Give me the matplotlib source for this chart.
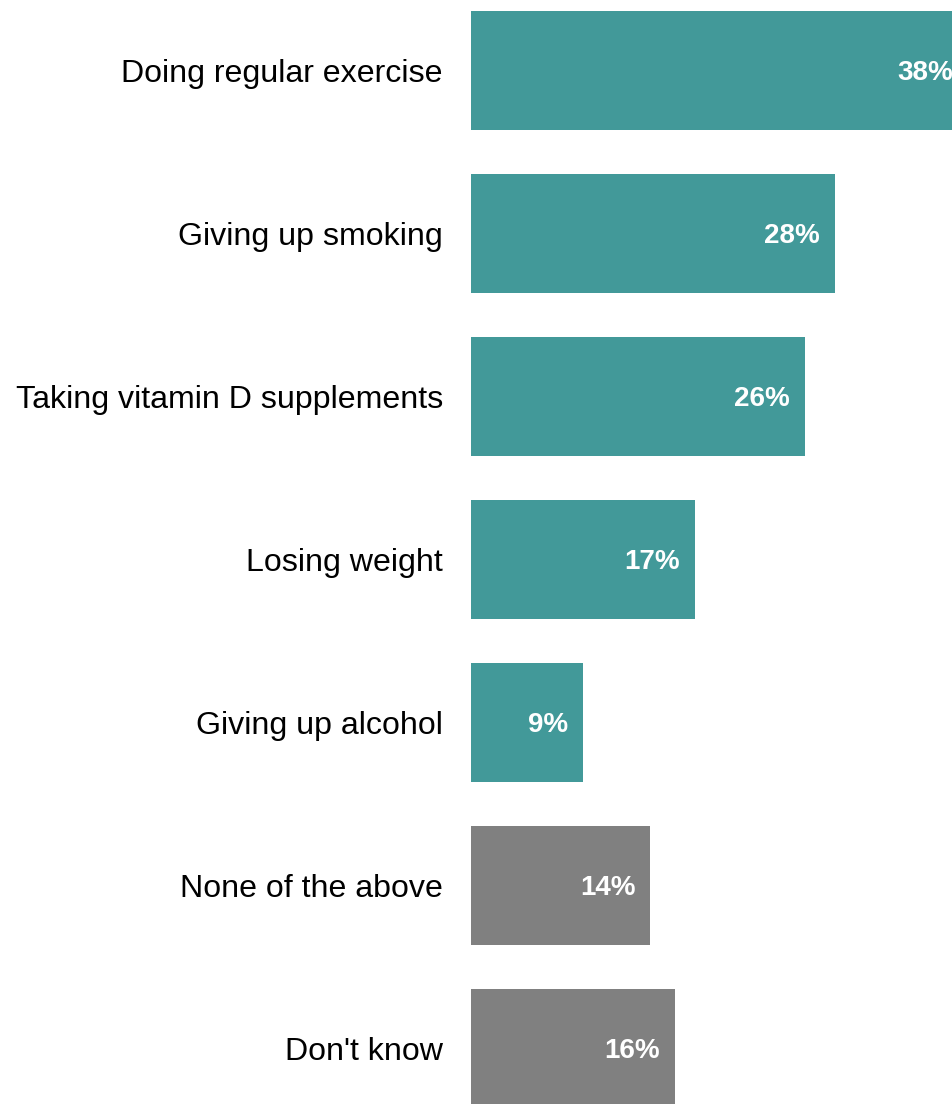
import matplotlib
matplotlib.use("Agg")
import matplotlib.pyplot as plt

categories = ["Doing regular exercise", "Giving up smoking", "Taking vitamin D supplements",
              "Losing weight", "Giving up alcohol", "None of the above", "Don't know"]
values = [38.2, 28.0, 25.7, 17.2, 8.6, 13.8, 15.7]
value_labels = ["38%", "28%", "26%", "17%", "9%", "14%", "16%"]
colors = ["#429999"] * 5 + ["#808080"] * 2

W, H = 953, 1104
fig = plt.figure(figsize=(W / 100, H / 100), dpi=100)
ax = fig.add_axes([471 / W, 0, (W - 471) / W, 1])

y = list(range(len(categories)))
ax.barh(y, values, height=119 / 163, color=colors)
ax.set_xlim(0, (W - 471) / 13.0)
ax.set_ylim((H - 70.5) / 163, -70.5 / 163)

cat_fs = 23.1
val_fs = 20
px = 100 / 72

for yi, v, lab in zip(y, values, value_labels):
    ax.annotate(lab, xy=(v, yi), xytext=(-15, -0.358 * val_fs * px), textcoords="offset pixels",
                ha="right", va="baseline", color="white", fontweight="bold",
                fontsize=val_fs, family="Liberation Sans", annotation_clip=False)

for yi, c in zip(y, categories):
    ax.annotate(c, xy=(0, yi), xytext=(-28, -0.358 * cat_fs * px), textcoords="offset pixels",
                ha="right", va="baseline", color="black", fontsize=cat_fs,
                family="Liberation Sans", annotation_clip=False)

ax.axis("off")
fig.savefig("out.png", dpi=100)
